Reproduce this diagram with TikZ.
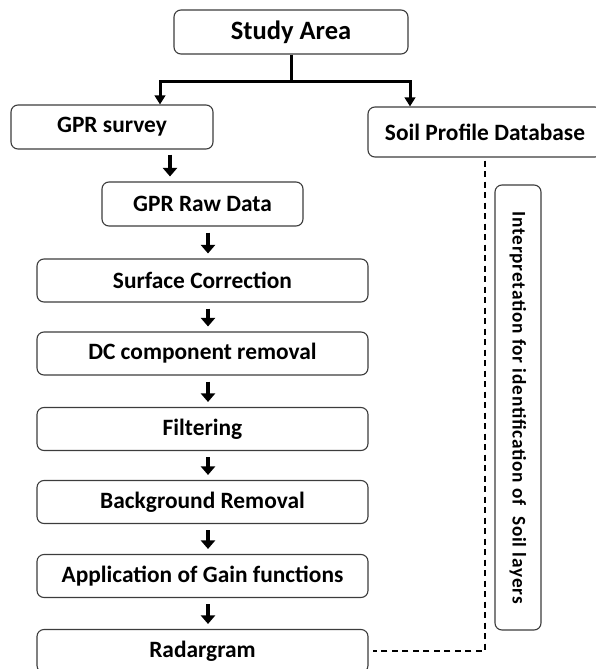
\documentclass[tikz,border=0pt]{standalone}
\usepackage{fontspec}
\setmainfont{Carlito}
\usepackage{xcolor}
\definecolor{gprborder}{RGB}{60,60,60}
\usetikzlibrary{arrows.meta,positioning}

\begin{document}
\begin{tikzpicture}[x=1pt,y=-1pt,
    stagebox/.style={draw=gprborder,line width=1.1pt,rounded corners=7pt,align=center,
      inner sep=0pt,font=\bfseries\fontsize{23.4}{28}\selectfont},
    flowarrow/.style={line width=4.5pt,-{Triangle[width=14pt,length=8.5pt]}},
    splitline/.style={line width=3pt},
    splitarrow/.style={line width=3pt,-{Triangle[width=10.5pt,length=9pt]}},
    linkline/.style={line width=1.2pt,dash pattern=on 6pt off 4.5pt}]
  \useasboundingbox (0,0) rectangle (595,669);

  % top of the tree
  \node[stagebox,minimum width=234pt,minimum height=44pt,
    font=\bfseries\fontsize{26.5}{30}\selectfont] (study) at (291,32) {Study Area};
  \node[stagebox,minimum width=202pt,minimum height=44pt] (survey) at (112,127) {GPR survey};
  \node[stagebox,minimum width=234pt,minimum height=50pt] (soildb) at (485,132) {Soil Profile Database};

  % processing chain
  \node[stagebox,minimum width=201pt,minimum height=44pt] (rawdata) at (202.5,204) {GPR Raw Data};
  \node[stagebox,minimum width=331pt,minimum height=43pt] (surface) at (202.5,280.5) {Surface Correction};
  \node[stagebox,minimum width=331pt,minimum height=43pt] (dcremove) at (202.5,353.5) {DC component removal};
  \node[stagebox,minimum width=331pt,minimum height=43pt] (filter) at (202.5,429) {Filtering};
  \node[stagebox,minimum width=331pt,minimum height=43pt] (backremove) at (202.5,502) {Background Removal};
  \node[stagebox,minimum width=331pt,minimum height=43pt] (gain) at (202.5,576) {Application of Gain functions};
  \node[stagebox,minimum width=331pt,minimum height=43pt] (radar) at (202.5,651) {Radargram};

  % interpretation
  \node[stagebox,rotate=-90,minimum width=445pt,minimum height=46pt,
    font=\bfseries\fontsize{19.3}{23}\selectfont\addfontfeature{LetterSpace=4.2}] (interp) at (518,407.5)
    {Interpretation for identification of\ \ Soil layers};

  % split below the study area
  \coordinate (split) at (291,81);
  \draw[splitline] (study.south) -- (split);
  \draw[splitarrow] (split) -| ([xshift=48pt]survey.north);
  \draw[splitarrow] (split) -| ([xshift=-75pt]soildb.north);

  \draw[flowarrow] ([xshift=58pt,yshift=-5pt]survey.south) -- ([xshift=-32.5pt,yshift=5pt]rawdata.north);
  \foreach \from/\to in {rawdata/surface,surface/dcremove,dcremove/filter,filter/backremove,backremove/gain,gain/radar}
    \draw[flowarrow] ([xshift=5.5pt,yshift=-6pt]\from.south) -- ([xshift=5.5pt,yshift=5pt]\to.north);

  % link to the soil database
  \draw[linkline] ([yshift=-3pt]soildb.south) |- ([xshift=4pt]radar.east);
\end{tikzpicture}
\end{document}
